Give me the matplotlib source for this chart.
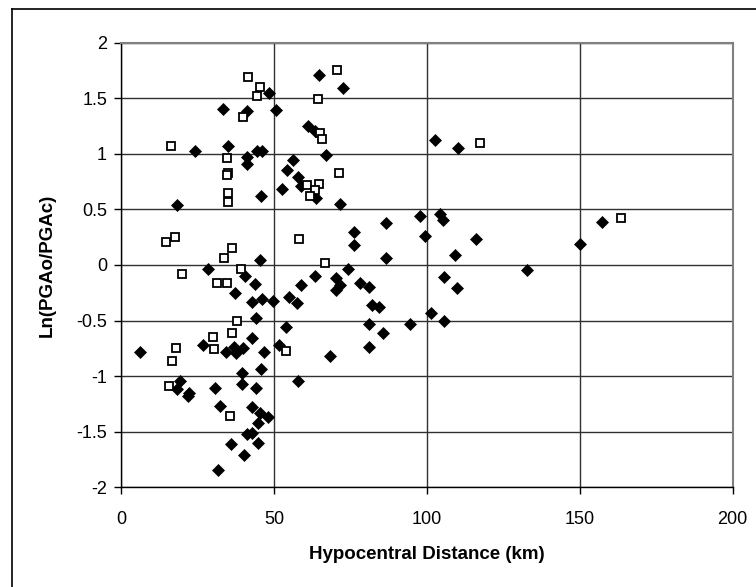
import matplotlib
matplotlib.use("Agg")
import matplotlib.pyplot as plt
from matplotlib.lines import Line2D

plt.rcParams['font.family'] = ['Liberation Sans', 'DejaVu Sans']

# filled diamonds
dist_a = [33.5, 24.1, 34.9, 18.2, 28.5, 48.5, 64.7, 72.7, 50.6, 41.3, 61.0, 63.5,
          44.4, 46.1, 67.0, 41.1, 41.1, 56.4, 54.3, 58.0, 58.9, 63.7, 52.7, 45.9,
          71.6, 76.3, 76.3, 45.4, 74.1, 40.4, 63.3, 70.4, 37.4, 26.7, 6.1, 34.4,
          36.8, 37.6, 19.3, 18.3, 22.2, 21.9, 30.8, 32.3, 36.0, 31.6, 43.9, 42.8,
          46.1, 49.6, 54.9, 57.6, 58.9, 71.5, 70.4, 78.0, 44.3, 53.8, 42.8, 39.8,
          46.6, 51.6, 68.4, 45.9, 39.7, 39.7, 44.3, 57.9, 42.8, 45.5, 48.0, 44.9,
          41.1, 42.9, 44.9, 40.1, 97.6, 104.4, 105.2, 86.7, 99.4, 116.0, 109.2, 86.7,
          132.8, 105.5, 81.0, 109.8, 82.0, 84.2, 101.4, 81.0, 94.6, 105.6, 85.7, 81.0,
          157.4, 150.1, 102.6, 110.3]
ln_a = [1.40, 1.02, 1.065, 0.54, -0.04, 1.55, 1.71, 1.59, 1.39, 1.385, 1.25, 1.20,
        1.02, 1.02, 0.99, 0.97, 0.91, 0.94, 0.85, 0.79, 0.71, 0.60, 0.68, 0.62,
        0.55, 0.30, 0.175, 0.04, -0.04, -0.10, -0.10, -0.12, -0.25, -0.72, -0.78, -0.78,
        -0.74, -0.79, -1.04, -1.12, -1.15, -1.18, -1.11, -1.27, -1.61, -1.84, -0.17, -0.33,
        -0.31, -0.325, -0.29, -0.34, -0.18, -0.18, -0.23, -0.16, -0.48, -0.555, -0.66, -0.75,
        -0.78, -0.72, -0.82, -0.94, -0.97, -1.07, -1.11, -1.04, -1.28, -1.33, -1.37, -1.42,
        -1.52, -1.515, -1.60, -1.71, 0.436, 0.457, 0.40, 0.38, 0.26, 0.235, 0.09, 0.06,
        -0.05, -0.11, -0.20, -0.21, -0.36, -0.38, -0.43, -0.53, -0.53, -0.50, -0.61, -0.74,
        0.39, 0.19, 1.12, 1.05]

# open squares
dist_b = [16.4, 34.6, 35.0, 34.6, 35.1, 35.1, 14.8, 17.6, 36.2, 33.7, 20.1, 39.2,
          31.5, 34.6, 37.9, 36.4, 30.1, 30.5, 18.0, 16.8, 15.8, 35.8, 54.1, 41.6,
          45.6, 44.6, 70.7, 64.5, 39.8, 65.1, 65.6, 71.4, 60.8, 64.9, 63.3, 61.9,
          58.2, 66.7, 117.4, 163.4]
ln_b = [1.07, 0.96, 0.83, 0.81, 0.65, 0.57, 0.21, 0.25, 0.154, 0.065, -0.085, -0.04,
        -0.16, -0.16, -0.50, -0.61, -0.65, -0.76, -0.75, -0.86, -1.09, -1.36, -0.775, 1.69,
        1.60, 1.515, 1.75, 1.49, 1.33, 1.19, 1.13, 0.83, 0.72, 0.73, 0.67, 0.62,
        0.23, 0.014, 1.10, 0.42]

x_ticks = [0, 50, 100, 150, 200]
y_ticks = [-2, -1.5, -1, -0.5, 0, 0.5, 1, 1.5, 2]
y_labels = ['-2', '-1.5', '-1', '-0.5', '0', '0.5', '1', '1.5', '2']

W, H = 756, 587
fig = plt.figure(figsize=(W / 100, H / 100), dpi=100)
ax = fig.add_axes([121 / W, 1 - 487.3 / H, (732.7 - 121) / W, (487.3 - 42.5) / H])

ax.plot(dist_a, ln_a, linestyle='none', marker='D', markersize=6,
        color='black', markeredgewidth=0.5, zorder=3, clip_on=False)
ax.plot(dist_b, ln_b, linestyle='none', marker='s', markersize=6.2,
        markerfacecolor='white', markeredgecolor='black', markeredgewidth=1.3,
        zorder=3, clip_on=False)

ax.set_xlim(0, 200)
ax.set_ylim(-2, 2)
ax.set_xticks(x_ticks)
ax.set_yticks(y_ticks)
ax.set_yticklabels(y_labels)
ax.grid(True, color='#303030', linewidth=1.0, zorder=0)
ax.set_axisbelow(True)

for side in ['top', 'right']:
    ax.spines[side].set_color('#808080')
    ax.spines[side].set_linewidth(1.5)
for side in ['left', 'bottom']:
    ax.spines[side].set_color('black')
    ax.spines[side].set_linewidth(1.0)

ax.tick_params(axis='both', direction='out', length=5, width=1, labelsize=13)
ax.tick_params(axis='y', pad=5)
ax.tick_params(axis='x', pad=12)

ax.set_xlabel('Hypocentral Distance (km)', fontsize=13.5, fontweight='bold', labelpad=13)
ax.set_ylabel('Ln(PGAo/PGAc)', fontsize=13.5, fontweight='bold', labelpad=15)

# chart area border (left and top visible)
fig.add_artist(Line2D([12.3 / W, 12.3 / W], [0, 1 - 9.3 / H], color='black', linewidth=1.2))
fig.add_artist(Line2D([12.3 / W, 1], [1 - 9.3 / H, 1 - 9.3 / H], color='black', linewidth=1.2))

fig.savefig('out.png', dpi=100, facecolor='white')
